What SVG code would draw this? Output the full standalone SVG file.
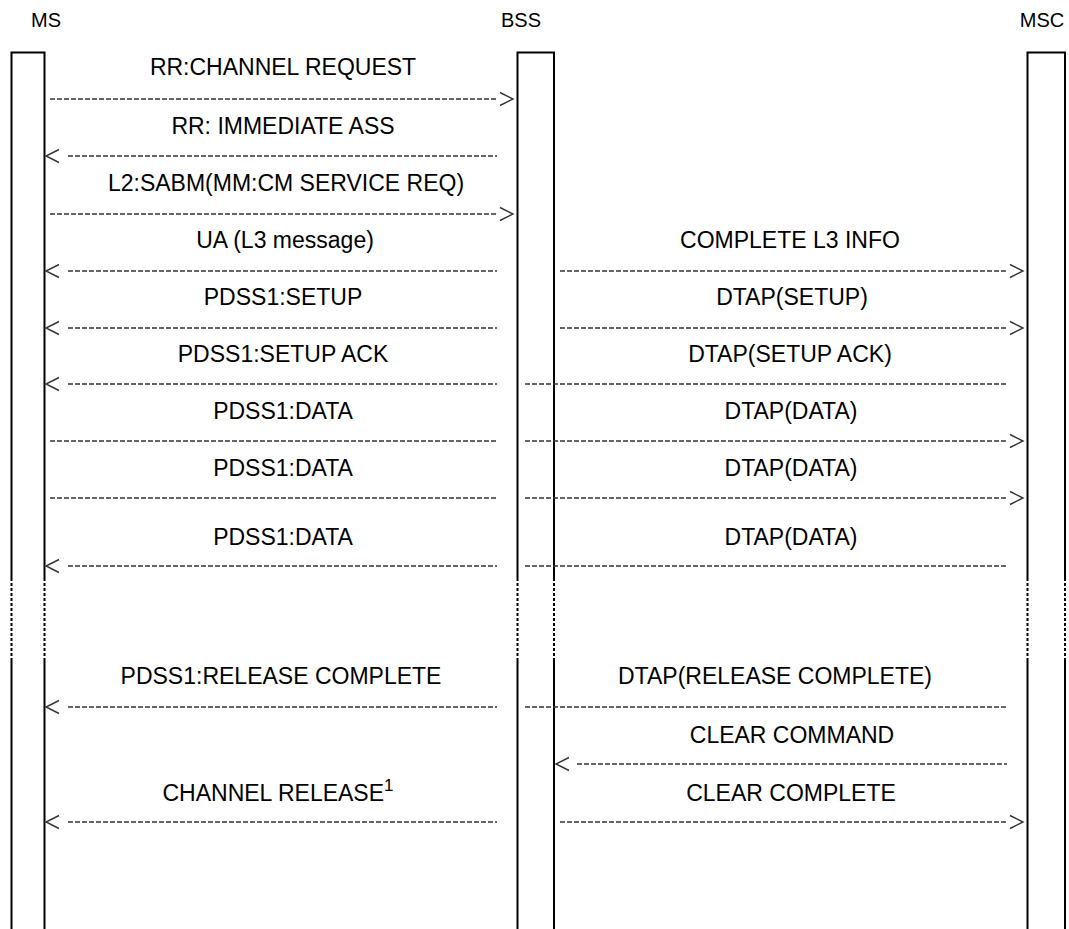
<svg xmlns="http://www.w3.org/2000/svg" width="1069" height="929" viewBox="0 0 1069 929">
<style>
.t{font-family:"Liberation Sans",Arial,sans-serif;font-size:23px;fill:#000;text-anchor:middle}
.h{font-family:"Liberation Sans",Arial,sans-serif;font-size:20px;fill:#000;text-anchor:middle}
.sup{font-size:17px}
.ll{fill:none;stroke:#000;stroke-width:2}
.dot{fill:none;stroke:#000;stroke-width:2;stroke-dasharray:3 2}
.d{fill:none;stroke:#333;stroke-width:1.6;stroke-dasharray:5 2}
.ah{fill:none;stroke:#333;stroke-width:1.4}
</style>
<rect width="1069" height="929" fill="#fff"/>
<g id="MS">
<text class="h" x="46" y="27">MS</text>
<path class="ll" d="M11.5 578 V52.5 H44.5 V578 M11.5 660 V929 M44.5 660 V929"/>
<path class="dot" d="M11.5 578 V660 M44.5 578 V660"/>
</g>
<g id="BSS">
<text class="h" x="521" y="27">BSS</text>
<path class="ll" d="M517.5 578 V52.5 H554 V578 M517.5 660 V929 M554 660 V929"/>
<path class="dot" d="M517.5 578 V660 M554 578 V660"/>
</g>
<g id="MSC">
<text class="h" x="1042" y="27">MSC</text>
<path class="ll" d="M1027.5 578 V52.5 H1065 V578 M1027.5 660 V929 M1065 660 V929"/>
<path class="dot" d="M1027.5 578 V660 M1065 578 V660"/>
</g>
<g id="connectors">
<!-- r1 -->
<text class="t" x="283" y="75">RR:CHANNEL REQUEST</text>
<path class="d" d="M50 99 H497"/><path class="ah" d="M500 92.5 L513 99 L500 105.5"/>
<!-- r2 -->
<text class="t" x="283" y="134">RR: IMMEDIATE ASS</text>
<path class="ah" d="M59 149.5 L46 156 L59 162.5"/><path class="d" d="M68 156 H497"/>
<!-- r3 -->
<text class="t" x="286" y="191">L2:SABM(MM:CM SERVICE REQ)</text>
<path class="d" d="M50 214 H497"/><path class="ah" d="M500 207.5 L513 214 L500 220.5"/>
<!-- r4 -->
<text class="t" x="285" y="248">UA (L3 message)</text>
<path class="ah" d="M59 264.5 L46 271 L59 277.5"/><path class="d" d="M68 271 H497"/>
<text class="t" x="790" y="248">COMPLETE L3 INFO</text>
<path class="d" d="M560 271 H1007"/><path class="ah" d="M1010 264.5 L1023 271 L1010 277.5"/>
<!-- r5 -->
<text class="t" x="283" y="305">PDSS1:SETUP</text>
<path class="ah" d="M59 321.5 L46 328 L59 334.5"/><path class="d" d="M68 328 H497"/>
<text class="t" x="792" y="305">DTAP(SETUP)</text>
<path class="d" d="M560 328 H1007"/><path class="ah" d="M1010 321.5 L1023 328 L1010 334.5"/>
<!-- r6 -->
<text class="t" x="283" y="362">PDSS1:SETUP ACK</text>
<path class="ah" d="M59 377.5 L46 384 L59 390.5"/><path class="d" d="M68 384 H497"/>
<text class="t" x="790" y="362">DTAP(SETUP ACK)</text>
<path class="d" d="M525 384 H1007"/>
<!-- r7 -->
<text class="t" x="283" y="419">PDSS1:DATA</text>
<path class="d" d="M50 441 H497"/>
<text class="t" x="791" y="419">DTAP(DATA)</text>
<path class="d" d="M525 441 H1007"/><path class="ah" d="M1010 434.5 L1023 441 L1010 447.5"/>
<!-- r8 -->
<text class="t" x="283" y="476">PDSS1:DATA</text>
<path class="d" d="M50 498 H497"/>
<text class="t" x="791" y="476">DTAP(DATA)</text>
<path class="d" d="M525 498 H1007"/><path class="ah" d="M1010 491.5 L1023 498 L1010 504.5"/>
<!-- r9 -->
<text class="t" x="283" y="545">PDSS1:DATA</text>
<path class="ah" d="M59 559.5 L46 566 L59 572.5"/><path class="d" d="M68 566 H497"/>
<text class="t" x="791" y="545">DTAP(DATA)</text>
<path class="d" d="M525 566 H1007"/>
<!-- r10 -->
<text class="t" x="281" y="684">PDSS1:RELEASE COMPLETE</text>
<path class="ah" d="M59 700.5 L46 707 L59 713.5"/><path class="d" d="M68 707 H497"/>
<text class="t" x="775" y="684">DTAP(RELEASE COMPLETE)</text>
<path class="d" d="M525 707 H1007"/>
<!-- r11 -->
<text class="t" x="792" y="743">CLEAR COMMAND</text>
<path class="ah" d="M569 757.5 L556 764 L569 770.5"/><path class="d" d="M577 764 H1007"/>
<!-- r12 -->
<text class="t" x="278" y="801">CHANNEL RELEASE<tspan class="sup" dy="-10">1</tspan></text>
<path class="ah" d="M59 815.5 L46 822 L59 828.5"/><path class="d" d="M68 822 H497"/>
<text class="t" x="791" y="801">CLEAR COMPLETE</text>
<path class="d" d="M560 822 H1007"/><path class="ah" d="M1010 815.5 L1023 822 L1010 828.5"/>
</g>
</svg>
